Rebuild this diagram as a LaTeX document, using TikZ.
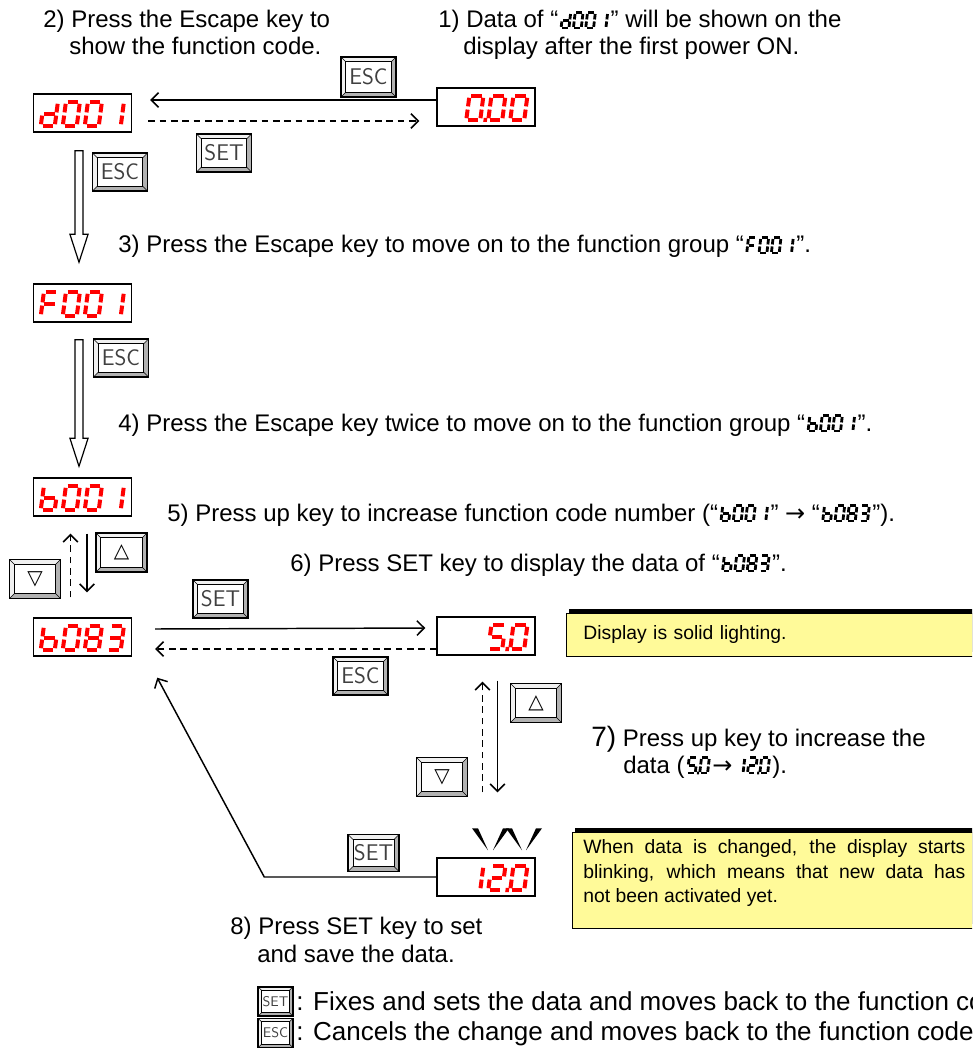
\documentclass[tikz,border=0pt]{standalone}
\usepackage{fontspec}
\setmainfont{Liberation Sans}
\newfontfamily\symfont{DejaVu Sans}
\usetikzlibrary{arrows.meta,calc,shadows}

% seven-segment pieces: cell 14 wide, 24 high, baseline at y=0 (y grows downwards)
\newcommand\sgA{\draw[line cap=butt] (1.8,-24) -- (12.2,-24);}
\newcommand\sgB{\draw[line cap=butt] (14,-22.2) -- (14,-13.6);}
\newcommand\sgC{\draw[line cap=butt] (14,-10.4) -- (14,-1.8);}
\newcommand\sgD{\draw[line cap=butt] (1.8,0) -- (12.2,0);}
\newcommand\sgE{\draw[line cap=butt] (0,-10.4) -- (0,-1.8);}
\newcommand\sgF{\draw[line cap=butt] (0,-22.2) -- (0,-13.6);}
\newcommand\sgG{\draw[line cap=butt] (1.8,-12) -- (12.2,-12);}
\newcommand\sgP{\fill (17.2,-2.2) rectangle (20.8,2);}
% characters
\newcommand\dgZero{\sgA\sgB\sgC\sgD\sgE\sgF}
\newcommand\dgOne{\sgB\sgC}
\newcommand\dgTwo{\sgA\sgB\sgG\sgE\sgD}
\newcommand\dgThree{\sgA\sgB\sgG\sgC\sgD}
\newcommand\dgFive{\sgA\sgF\sgG\sgC\sgD}
\newcommand\dgEight{\sgA\sgB\sgC\sgD\sgE\sgF\sgG}
\newcommand\dgLd{\sgB\sgC\sgD\sgE\sgG}
\newcommand\dgLb{\sgF\sgE\sgD\sgC\sgG}
\newcommand\dgLF{\sgA\sgF\sgE\sgG}

% red digits inside a display box: #1 box, #2 first cell, #3 characters
\newcommand\dispdigits[3]{%
  \begin{scope}[shift={(#1.west)}, shift={(8,13)}, color=red, line width=3pt, xslant=0.13]
    \foreach \c [count=\i from #2] in {#3} {\begin{scope}[shift={(\i*22,0)}]\c\end{scope}}
  \end{scope}}

% black digits within a line of text: #1 start, #2 end coordinate, #3 cells, #4 characters
\newcommand\inlineseg[4]{%
  \begin{scope}[shift={(#1)}, shift={(2.5,0)}, xscale=0.56, yscale=0.63, color=black, line width=2.1pt, xslant=0.13]
    \foreach \c [count=\i from 0] in {#4} {\begin{scope}[shift={(\i*22,0)}]\c\end{scope}}
  \end{scope}
  \coordinate (#2) at ($(#1)+({(#3-1)*12.32+7.84+7},0)$);}

% wide hollow arrow: #1 top of shaft, #2 tip
\newcommand\hollowarrow[2]{%
  \draw[hollow] let \p1=(#1), \p2=(#2) in
    (\x1-3pt,\y1) -- (\x1+3pt,\y1) -- (\x1+3pt,\y2+21pt) -- (\x1+6.8pt,\y2+21pt)
    -- (\x1,\y2) -- (\x1-6.8pt,\y2+21pt) -- (\x1-3pt,\y2+21pt) -- cycle;}

\tikzset{
  bevel/.initial=3.6pt,
  keybtn/.style={draw=black, line width=1.2pt, minimum width=41.25pt, minimum height=28.5pt,
    inner sep=0pt, font=\sffamily\fontsize{17}{17}\selectfont, text=black!75,
    path picture={
      \def\bv{\pgfkeysvalueof{/tikz/bevel}}
      \coordinate (ksw) at (path picture bounding box.south west);
      \coordinate (kne) at (path picture bounding box.north east);
      \fill[gray!60] (ksw) rectangle (kne);
      \fill[gray!12] (ksw) -- (ksw |- kne) -- (kne) -- ($(kne)+(-\bv,-\bv)$)
        -- ($(ksw |- kne)+(\bv,-\bv)$) -- ($(ksw)+(\bv,\bv)$) -- cycle;
      \draw[black, line width=0.4pt] (ksw) -- ++(\bv,\bv) (ksw |- kne) -- ++(\bv,-\bv)
        (kne) -- ++(-\bv,-\bv) (kne |- ksw) -- ++(-\bv,\bv);
      \draw[black, line width=0.7pt, fill=white] ($(ksw)+(\bv,\bv)$) rectangle ($(kne)+(-\bv,-\bv)$);
    }},
  smallkey/.style={keybtn, bevel=2.6pt, minimum width=26.25pt, minimum height=22pt,
    font=\sffamily\fontsize{10.5}{10.5}\selectfont},
  arrowkey/.style={keybtn, minimum width=38.25pt, minimum height=29.25pt, text=black,
    font=\symfont\fontsize{15}{15}\selectfont},
  disp/.style={draw=black, line width=1.1pt, fill=white, minimum width=73.5pt,
    minimum height=28.5pt, inner sep=0pt},
  conn/.style={line width=1.1pt, -{Straight Barb[length=5.5pt, width=11pt]}},
  dconn/.style={conn, dash pattern=on 5pt off 3.5pt},
  hollow/.style={draw=black, line width=0.9pt, fill=white},
  txt/.style={anchor=base west, inner sep=0pt, font=\fontsize{18}{21.6}\selectfont},
  legtxt/.style={txt, font=\fontsize{19.5}{23.4}\selectfont},
  note/.style={draw=black, line width=0.6pt, fill=yellow!40, anchor=north west,
    general shadow={fill=black, shadow xshift=2.25pt, shadow yshift=3pt},
    font=\fontsize{14.5}{18.4}\selectfont},
}
\newcommand\rarr{{\symfont →}}

\begin{document}
\begin{tikzpicture}[x=0.75pt,y=-0.75pt]
\useasboundingbox (0,0) rectangle (972,1048);
\clip (0,0) rectangle (972,1048);

% ---- displays
\node[disp] (d1) at (82.5,113) {};
\node[disp] (z1) at (486,107) {};
\node[disp] (f1) at (82.5,303) {};
\node[disp] (b1) at (82.5,497) {};
\node[disp] (b2) at (82.5,637) {};
\node[disp] (v5) at (486,636) {};
\node[disp] (v12) at (486,877) {};
\dispdigits{d1}{0}{\dgLd,\dgZero,\dgZero,\dgOne}
\begin{scope}[xshift=-3pt]\dispdigits{z1}{1}{\dgZero\sgP}\end{scope}
\dispdigits{z1}{2}{\dgZero,\dgZero}
\dispdigits{f1}{0}{\dgLF,\dgZero,\dgZero,\dgOne}
\dispdigits{b1}{0}{\dgLb,\dgZero,\dgZero,\dgOne}
\dispdigits{b2}{0}{\dgLb,\dgZero,\dgEight,\dgThree}
\dispdigits{v5}{2}{\dgFive\sgP,\dgZero}
\dispdigits{v12}{1}{\dgOne,\dgTwo\sgP,\dgZero}

% ---- keys
\node[keybtn, minimum height=30pt] (k1) at (368.5,77) {ESC};
\node[keybtn] (k2) at (224,153) {SET};
\node[keybtn] (k3) at (120,172) {ESC};
\node[keybtn] (k4) at (121,358) {ESC};
\node[arrowkey] (k5) at (121.5,552.5) {△};
\node[arrowkey] (k6) at (35,579) {▽};
\node[keybtn] (k7) at (220.5,599) {SET};
\node[keybtn] (k8) at (360.5,676) {ESC};
\node[arrowkey] (k9) at (536,703) {△};
\node[arrowkey] (k10) at (442,777) {▽};
\node[keybtn, minimum width=38pt, minimum height=27.5pt] (k11) at (373.5,853) {SET};
\node[smallkey] (k12) at (275.5,1001.5) {SET};
\node[smallkey] (k13) at (275.5,1033) {ESC};

% ---- connectors
\draw[conn] ($(z1.west)+(0,-7)$) -- ($(d1.east)+(18,-13)$);
\draw[dconn] ($(d1.east)+(16,8)$) -- ($(z1.west)+(-17,14)$);
\hollowarrow{$(d1.south)+(-3.5,18)$}{$(f1.north)+(-3.5,-21)$}
\hollowarrow{$(f1.south)+(-3.5,17)$}{$(b1.north)+(-3.5,-11)$}
\draw[dconn] ($(b2.north)+(-12,-20)$) -- ($(b1.south)+(-12,17)$);
\draw[conn] ($(b1.south)+(4.5,17)$) -- ($(b2.north)+(4.5,-25)$);
\draw[conn] ($(b2.east)+(23,-8)$) -- ($(v5.west)+(-11,-8)$);
\draw[dconn] ($(v5.west)+(0,13)$) -- ($(b2.east)+(23,12)$);
\draw[dconn] ($(v12.north)+(-3.5,-65)$) -- ($(v5.south)+(-3.5,26)$);
\draw[conn] ($(v5.south)+(11.5,25)$) -- ($(v12.north)+(11.5,-65)$);
\draw[conn] (v12.west) -- ++(-172,0) -- ($(b2.south east)+(25,21)$);

% ---- blinking marks
\foreach \tx/\bx in {-11/2, 20/7, 23/36, 53/40}
  \fill ($(v12.north)+(\tx-3,-29)$) -- ($(v12.north)+(\tx+3,-29)$) -- ($(v12.north)+(\bx,-7)$) -- cycle;

% ---- notes
\node[note, minimum height=32.25pt, text width=304.5pt, inner xsep=12.75pt, align=left] (n1)
  at (566,613) {Display is solid lighting.};
\node[note, minimum height=72pt, text width=286.5pt, inner xsep=8.25pt, inner ysep=0pt, align=justify] (n2)
  at (572,832) {When data is changed, the display starts\linebreak blinking, which means that new data has\linebreak not been activated yet.\rule[-14pt]{0pt}{1pt}};

% ---- step texts
\node[txt] (t2a) at (43,28) {2) Press the Escape key to};
\node[txt] (t2b) at (69,55) {show the function code.};
\node[txt] (t1a) at (438,28) {1) Data of “};
\inlineseg{t1a.base east}{g1}{4}{\dgLd,\dgZero,\dgZero,\dgOne}
\node[txt] (t1b) at (g1) {” will be shown on the};
\node[txt] (t1c) at (463,55) {display after the first power ON.};

\node[txt] (t3a) at (118,253) {3) Press the Escape key to move on to the function group “};
\inlineseg{t3a.base east}{g3}{4}{\dgLF,\dgZero,\dgZero,\dgOne}
\node[txt] (t3b) at (g3) {”.};

\node[txt] (t4a) at (118,431) {4) Press the Escape key twice to move on to the function group “};
\inlineseg{t4a.base east}{g4}{4}{\dgLb,\dgZero,\dgZero,\dgOne}
\node[txt] (t4b) at (g4) {”.};

\node[txt] (t5a) at (167,521) {5) Press up key to increase function code number (“};
\inlineseg{t5a.base east}{g5}{4}{\dgLb,\dgZero,\dgZero,\dgOne}
\node[txt] (t5b) at (g5) {” \rarr{} “};
\inlineseg{t5b.base east}{g5b}{4}{\dgLb,\dgZero,\dgEight,\dgThree}
\node[txt] (t5c) at (g5b) {”).};

\node[txt] (t6a) at (290,571) {6) Press SET key to display the data of “};
\inlineseg{t6a.base east}{g6}{4}{\dgLb,\dgZero,\dgEight,\dgThree}
\node[txt] (t6b) at (g6) {”.};

\node[txt] (t7a) at (591,746) {{\fontsize{21}{24}\selectfont 7)} Press up key to increase the};
\node[txt] (t7b) at (623,773) {data (};
\inlineseg{t7b.base east}{g7}{2}{\dgFive\sgP,\dgZero}
\node[txt] (t7c) at (g7) {\rarr{} };
\inlineseg{t7c.base east}{g7b}{3}{\dgOne,\dgTwo\sgP,\dgZero}
\node[txt] (t7d) at (g7b) {).};

\node[txt] (t8a) at (230,934) {8) Press SET key to set};
\node[txt] (t8b) at (257,962) {and save the data.};

\node[legtxt] (l1) at (296,1010) {: Fixes and sets the data and moves back to the function code.};
\node[legtxt] (l2) at (296,1040) {: Cancels the change and moves back to the function code.};
\end{tikzpicture}
\end{document}
